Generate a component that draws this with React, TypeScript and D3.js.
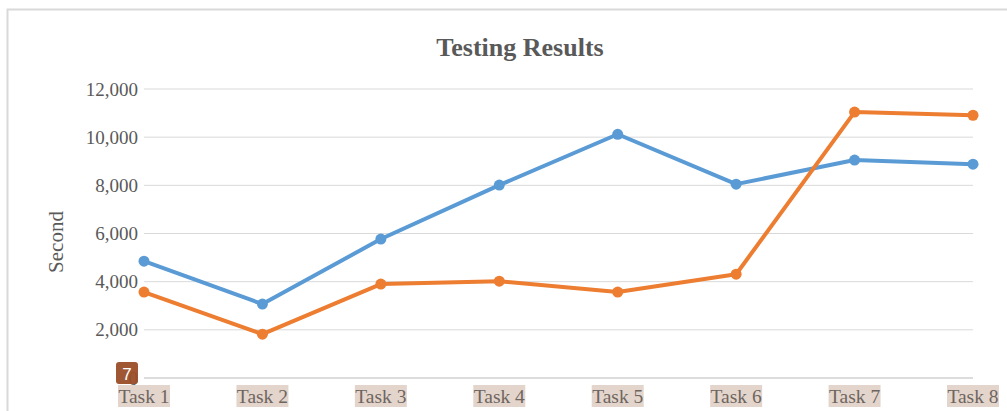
import React from "react";
import * as d3 from "d3";

const categories = ["Task 1", "Task 2", "Task 3", "Task 4", "Task 5", "Task 6", "Task 7", "Task 8"];
const seriesBlue = [4850, 3070, 5770, 8010, 10120, 8050, 9050, 8880];
const seriesOrange = [3570, 1820, 3900, 4020, 3570, 4310, 11040, 10910];
const yTicks = [0, 2000, 4000, 6000, 8000, 10000, 12000];

const W = 1007;
const H = 411;
const left = 144;
const right = 973;
const top = 89;
const bottom = 378;

export default function App() {
  const x = d3.scalePoint<string>().domain(categories).range([left, right]);
  const y = d3.scaleLinear().domain([0, 12000]).range([bottom, top]);
  const fmt = d3.format(",");
  const line = d3
    .line<number>()
    .x((_, i) => x(categories[i]) as number)
    .y((d) => y(d));
  const font = "'Liberation Serif', 'Times New Roman', serif";
  const series = [
    { values: seriesBlue, color: "#5b9bd5" },
    { values: seriesOrange, color: "#ed7d31" },
  ];
  return (
    <svg
      width={W}
      height={H}
      style={{ position: "absolute", left: 0, top: 0, display: "block" }}
    >
      <rect width={W} height={H} fill="#ffffff" />
      <path d={`M7.5,${H} V9.5 H${W}`} fill="none" stroke="#d9d9d9" strokeWidth={2} />
      <text
        x={520}
        y={56}
        textAnchor="middle"
        fontFamily={font}
        fontWeight="bold"
        fontSize={26}
        fill="#595959"
      >
        Testing Results
      </text>
      {yTicks.map((t) => (
        <g key={t}>
          <line
            x1={left}
            x2={right}
            y1={y(t)}
            y2={y(t)}
            stroke={t === 0 ? "#d0d0d0" : "#d9d9d9"}
            strokeWidth={t === 0 ? 1.5 : 1}
          />
          <text
            x={138}
            y={y(t)}
            dy="0.35em"
            textAnchor="end"
            fontFamily={font}
            fontSize={19}
            fill="#595959"
          >
            {fmt(t)}
          </text>
        </g>
      ))}
      <text
        transform={`translate(63,${242}) rotate(-90)`}
        textAnchor="middle"
        fontFamily={font}
        fontSize={21}
        fill="#595959"
      >
        Second
      </text>
      {categories.map((c) => {
        const cx = x(c) as number;
        return (
          <g key={c}>
            <rect x={cx - 26} y={385} width={52} height={22} fill="#e3d5cc" />
            <text
              x={cx}
              y={403}
              textAnchor="middle"
              fontFamily={font}
              fontSize={19.5}
              fill="#6f6560"
            >
              {c}
            </text>
          </g>
        );
      })}
      {series.map((s, si) => (
        <g key={si}>
          <path
            d={line(s.values) || ""}
            fill="none"
            stroke={s.color}
            strokeWidth={4}
            strokeLinejoin="round"
            strokeLinecap="round"
          />
          {s.values.map((v, i) => (
            <circle key={i} cx={x(categories[i]) as number} cy={y(v)} r={5.5} fill={s.color} />
          ))}
        </g>
      ))}
      <rect x={116} y={362} width={22} height={22} rx={3} fill="#9a4e28" opacity={0.95} />
      <text
        x={127}
        y={380}
        textAnchor="middle"
        fontFamily="'Liberation Sans', Arial, sans-serif"
        fontSize={17}
        fill="#ffffff"
      >
        7
      </text>
    </svg>
  );
}
